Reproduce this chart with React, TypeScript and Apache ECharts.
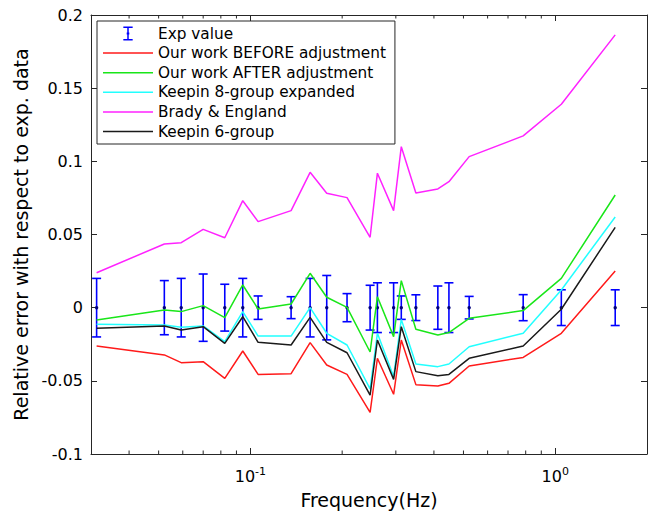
import React, { useEffect, useRef } from "react";
import * as echarts from "echarts";

// Frequencies (Hz) of the experimental points
const freq = [0.0313, 0.0522, 0.0593, 0.070, 0.0824, 0.0944, 0.106, 0.136, 0.157, 0.178, 0.2075, 0.247, 0.261, 0.295, 0.3126, 0.349, 0.412, 0.448, 0.522, 0.785, 1.047, 1.573];
// Experimental uncertainty (half-width of the error bar), centred on 0
const expErr = [0.020, 0.0185, 0.020, 0.023, 0.016, 0.020, 0.008, 0.0075, 0.020, 0.022, 0.0096, 0.0153, 0.017, 0.017, 0.008, 0.0088, 0.0148, 0.017, 0.0077, 0.0089, 0.0122, 0.0122];
const beforeAdj = [-0.0262, -0.0323, -0.0376, -0.0369, -0.0483, -0.0296, -0.0456, -0.0451, -0.0239, -0.0392, -0.0456, -0.0715, -0.0346, -0.0592, -0.0221, -0.0526, -0.0535, -0.0517, -0.0399, -0.034, -0.0175, 0.0251];
const afterAdj = [-0.0084, -0.0016, -0.0027, 0.0014, -0.0068, 0.0155, -0.0009, 0.0025, 0.0235, 0.0071, 0.0002, -0.0303, 0.0075, -0.0198, 0.0185, -0.0148, -0.0187, -0.017, -0.0073, -0.002, 0.020, 0.077];
const keepin8 = [-0.0114, -0.0118, -0.0134, -0.0125, -0.0232, -0.0027, -0.0194, -0.0194, 0.0000, -0.0175, -0.0255, -0.0555, -0.0175, -0.047, -0.008, -0.0385, -0.0403, -0.0385, -0.0267, -0.0175, 0.0121, 0.062];
const brady = [0.0239, 0.0435, 0.0444, 0.0535, 0.0478, 0.0731, 0.0588, 0.0663, 0.0925, 0.0782, 0.0752, 0.0481, 0.0919, 0.0663, 0.110, 0.0784, 0.0811, 0.0861, 0.1032, 0.1174, 0.139, 0.1864];
const keepin6 = [-0.0141, -0.0125, -0.0153, -0.0130, -0.0244, -0.0062, -0.0237, -0.0255, -0.0066, -0.0237, -0.0308, -0.0597, -0.0221, -0.049, -0.013, -0.0437, -0.0465, -0.0456, -0.0346, -0.0262, -0.0011, 0.0549];

const minorTicks = [0.04, 0.05, 0.06, 0.07, 0.08, 0.09, 0.2, 0.3, 0.4, 0.5, 0.6, 0.7, 0.8, 0.9];
const xMin = 0.03;
const xMax = 2;
const yMin = -0.1;
const yMax = 0.2;
const yStep = 0.05;

const names = [
  "Exp value",
  "Our work BEFORE adjustment",
  "Our work AFTER adjustment",
  "Keepin 8-group expanded",
  "Brady & England",
  "Keepin 6-group",
];
const lineSets = [beforeAdj, afterAdj, keepin8, brady, keepin6];
const lineColors = ["#ff1a1a", "#19e619", "#22ffff", "#ff22ff", "#1a1a1a"];

const FONT = "DejaVu Sans";
const AX = "#262626";

export default function App() {
  const ref = useRef<HTMLDivElement>(null);

  useEffect(() => {
    if (!ref.current) return;
    const chart = echarts.init(ref.current, undefined, { renderer: "svg" });

    const isPow10 = (v: number) => {
      const l = Math.log10(v);
      return Math.abs(l - Math.round(l)) < 1e-6;
    };

    const xAxisBase = {
      type: "log" as const,
      logBase: 10,
      min: xMin,
      max: xMax,
      axisLine: { show: true, onZero: false, lineStyle: { color: AX, width: 1 } },
      axisTick: { show: true, inside: true, length: 6, lineStyle: { color: AX } },
      splitLine: { show: false },
      minorTick: { show: false },
    };
    const yAxisBase = {
      type: "value" as const,
      min: yMin,
      max: yMax,
      interval: yStep,
      axisLine: { show: true, onZero: false, lineStyle: { color: AX, width: 1 } },
      axisTick: { show: true, inside: true, length: 6, lineStyle: { color: AX } },
      splitLine: { show: false },
    };

    const lineIcon = "path://M0,0 H50 V1.5 H0 Z";

    const option: any = {
      animation: false,
      backgroundColor: "#ffffff",
      textStyle: { fontFamily: FONT },
      grid: { left: 91, right: 7, top: 15, bottom: 59, containLabel: false, outerBoundsMode: "none" },
      legend: {
        orient: "vertical",
        left: 97,
        top: 21,
        padding: [5, 9, 5, 6],
        itemWidth: 50,
        itemHeight: 14,
        itemGap: 4.6,
        selectedMode: false,
        backgroundColor: "#ffffff",
        borderColor: AX,
        borderWidth: 1,
        borderRadius: 0,
        textStyle: { fontFamily: FONT, fontSize: 15.3, color: "#000" },
        data: [
          {
            name: names[0],
            icon: "path://M0,0 H10 V1.6 H5.8 V13.4 H10 V15 H0 V13.4 H4.2 V1.6 H0 Z M3.6,6.3 H6.4 V8.7 H3.6 Z",
          },
          ...names.slice(1).map((n) => ({ name: n, icon: lineIcon })),
        ],
      },
      xAxis: [
        {
          ...xAxisBase,
          position: "bottom",
          name: "Frequency(Hz)",
          nameLocation: "middle",
          nameGap: 36,
          nameTextStyle: { fontFamily: FONT, fontSize: 19, color: "#000" },
          axisLabel: {
            show: true,
            margin: 12,
            fontFamily: FONT,
            color: "#000",
            formatter: (v: number) => {
              if (!isPow10(v)) return "";
              return "{b|10}{s|" + Math.round(Math.log10(v)) + "}";
            },
            rich: {
              b: { fontFamily: FONT, fontSize: 16, lineHeight: 20, color: "#000" },
              s: { fontFamily: FONT, fontSize: 11, lineHeight: 10, verticalAlign: "top", color: "#000" },
            },
          },
        },
        {
          ...xAxisBase,
          position: "top",
          axisLabel: { show: false },
        },
      ],
      yAxis: [
        {
          ...yAxisBase,
          position: "left",
          name: "Relative error with respect to exp. data",
          nameLocation: "middle",
          nameGap: 59,
          nameTextStyle: { fontFamily: FONT, fontSize: 19, color: "#000" },
          axisLabel: { show: true, margin: 8, fontFamily: FONT, fontSize: 16, color: "#000" },
        },
        {
          ...yAxisBase,
          position: "right",
          axisLabel: { show: false },
        },
      ],
      series: [
        {
          name: "minorTicks",
          type: "custom",
          silent: true,
          xAxisIndex: 0,
          yAxisIndex: 0,
          data: minorTicks.map((v) => [v, yMin]),
          renderItem: (_p: any, api: any) => {
            const v = api.value(0);
            const b = api.coord([v, yMin]);
            const t = api.coord([v, yMax]);
            const st = { stroke: AX, lineWidth: 1 };
            return {
              type: "group",
              children: [
                { type: "line", shape: { x1: b[0], y1: b[1], x2: b[0], y2: b[1] - 3.5 }, style: st },
                { type: "line", shape: { x1: t[0], y1: t[1], x2: t[0], y2: t[1] + 3.5 }, style: st },
              ],
            };
          },
        },
        {
          name: names[0],
          type: "custom",
          xAxisIndex: 0,
          yAxisIndex: 0,
          itemStyle: { color: "#0000ff" },
          encode: { x: 0, y: 1 },
          data: freq.map((f, i) => [f, 0, expErr[i]]),
          renderItem: (_p: any, api: any) => {
            const x = api.value(0);
            const y = api.value(1);
            const e = api.value(2);
            const top = api.coord([x, y + e]);
            const bot = api.coord([x, y - e]);
            const c = api.coord([x, y]);
            const hw = 4.5;
            const st = { stroke: "#0000ff", lineWidth: 1.6, fill: "none" };
            return {
              type: "group",
              children: [
                { type: "line", shape: { x1: c[0], y1: top[1], x2: c[0], y2: bot[1] }, style: st },
                { type: "line", shape: { x1: c[0] - hw, y1: top[1], x2: c[0] + hw, y2: top[1] }, style: st },
                { type: "line", shape: { x1: c[0] - hw, y1: bot[1], x2: c[0] + hw, y2: bot[1] }, style: st },
                { type: "circle", shape: { cx: c[0], cy: c[1], r: 1.7 }, style: { fill: "#00007a" } },
              ],
            };
          },
        },
        ...lineSets.map((vals, k) => ({
          name: names[k + 1],
          type: "line",
          xAxisIndex: 0,
          yAxisIndex: 0,
          symbol: "none",
          showSymbol: false,
          itemStyle: { color: lineColors[k] },
          lineStyle: { color: lineColors[k], width: 1.5 },
          data: freq.map((f, i) => [f, vals[i]]),
        })),
      ],
    };

    chart.setOption(option);
    return () => chart.dispose();
  }, []);

  return (
    <div
      ref={ref}
      style={{ position: "fixed", left: 0, top: 0, width: 654, height: 513, background: "#fff" }}
    />
  );
}
